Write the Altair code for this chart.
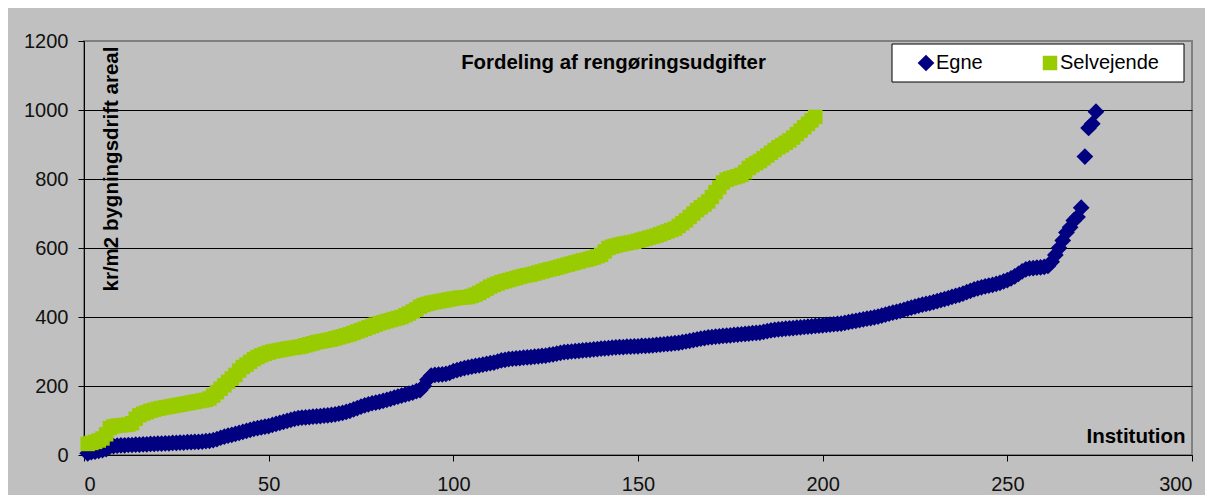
import altair as alt
import pandas as pd

# ---- data ----
egne = [
    5, 8, 10, 12, 14, 17, 24, 26, 27, 28,
    28, 29, 29, 30, 30, 31, 31, 32, 32, 33,
    33, 34, 34, 35, 35, 36, 36, 37, 37, 38,
    38, 39, 40, 41, 43, 46, 50, 53, 56, 58,
    61, 64, 67, 70, 73, 76, 78, 80, 82, 84,
    87, 90, 93, 96, 99, 102, 105, 107, 108, 109,
    110, 111, 112, 113, 114, 115, 116, 118, 120, 122,
    125, 128, 132, 136, 140, 144, 147, 150, 152, 154,
    157, 160, 163, 166, 169, 172, 175, 178, 181, 185,
    188, 200, 218, 230, 232, 233, 234, 235, 238, 243,
    246, 249, 252, 254, 256, 258, 260, 262, 264, 266,
    268, 271, 274, 276, 278, 279, 280, 281, 282, 283,
    284, 285, 286, 287, 288, 290, 292, 294, 296, 298,
    299, 300, 301, 302, 303, 304, 305, 306, 307, 308,
    309, 310, 311, 312, 313, 313, 314, 314, 315, 315,
    316, 316, 317, 318, 319, 320, 321, 322, 323, 324,
    325, 327, 329, 331, 333, 335, 337, 339, 341, 342,
    343, 344, 345, 346, 347, 348, 349, 350, 351, 352,
    353, 354, 355, 357, 359, 361, 363, 364, 365, 366,
    367, 368, 369, 370, 371, 372, 373, 374, 375, 376,
    377, 378, 379, 380, 381, 383, 385, 387, 389, 391,
    393, 395, 397, 399, 401, 404, 407, 410, 413, 415,
    418, 421, 424, 427, 430, 433, 436, 438, 440, 443,
    446, 449, 452, 455, 458, 461, 464, 468, 472, 476,
    480, 483, 486, 489, 491, 493, 496, 499, 503, 507,
    512, 518, 525, 532, 538, 541, 542, 543, 544, 545,
    548, 560, 580, 600, 622, 645, 660, 680, 690, 717,
    865, 948, 960, 995,
]

selvejende = [
    32, 35, 38, 42, 48, 60, 78, 83, 85, 86,
    87, 88, 92, 105, 115, 120, 124, 128, 131, 134,
    136, 138, 140, 142, 144, 146, 148, 150, 152, 154,
    156, 158, 160, 164, 172, 182, 192, 202, 212, 222,
    232, 245, 255, 262, 270, 278, 284, 289, 293, 297,
    300, 302, 304, 306, 308, 310, 311, 313, 315, 318,
    321, 324, 327, 329, 331, 333, 335, 338, 341, 344,
    347, 350, 354, 358, 362, 366, 370, 374, 378, 382,
    385, 388, 391, 394, 397, 400, 405, 410, 416, 422,
    430, 435, 438, 441, 443, 445, 447, 449, 451, 453,
    455, 456, 457, 458, 461, 465, 470, 476, 482, 488,
    493, 497, 501, 504, 507, 510, 513, 516, 519, 521,
    523, 526, 529, 532, 535, 538, 540, 543, 546, 549,
    552, 555, 558, 561, 564, 566, 569, 572, 576, 580,
    590, 600, 604, 607, 610, 612, 614, 616, 618, 621,
    624, 627, 630, 633, 636, 640, 644, 648, 652, 656,
    664, 672, 680, 690, 700, 710, 718, 726, 735, 748,
    762, 776, 790, 798, 802, 805, 808, 812, 820, 832,
    840, 846, 852, 860, 868, 876, 884, 892, 898, 905,
    912, 920, 930, 940, 950, 960, 970, 980,
]

series_names = ["Egne", "Selvejende"]
series_colors = ["#000080", "#99CC00"]
series_shapes = ["diamond", "square"]
series_sizes = [280, 210]
x_ticks = [0, 50, 100, 150, 200, 250, 300]
y_ticks = [0, 200, 400, 600, 800, 1000, 1200]
chart_title = "Fordeling af rengøringsudgifter"
y_title = "kr/m2 bygningsdrift areal"
x_title = "Institution"

df = pd.DataFrame({
    "Institution": list(range(1, len(egne) + 1)) + list(range(1, len(selvejende) + 1)),
    "value": egne + selvejende,
    "series": [series_names[0]] * len(egne) + [series_names[1]] * len(selvejende),
})

FONT = "Liberation Sans"
W, H = 1108, 414

legend = alt.Legend(
    title=None, orient="none", legendX=832, legendY=12, direction="horizontal",
    symbolSize=210, symbolOpacity=1, symbolStrokeWidth=0, labelFont=FONT,
    labelFontSize=20, labelColor="#000", labelOffset=0, columnPadding=57, padding=0,
)

points = alt.Chart(df).mark_point(filled=True, opacity=1, strokeWidth=0).encode(
    x=alt.X("Institution:Q",
            scale=alt.Scale(domain=[0, 300], nice=False),
            axis=alt.Axis(values=x_ticks, grid=False, tickSize=6, tickColor="#000",
                          domainColor="#000", labelFont=FONT, labelFontSize=20,
                          labelColor="#111", labelPadding=13, format="d",
                          title=x_title, titleFont=FONT, titleFontSize=20.5,
                          titleFontWeight="bold", titleColor="#000",
                          titleX=1101, titleY=-13, titleAlign="right",
                          titleBaseline="alphabetic")),
    y=alt.Y("value:Q",
            scale=alt.Scale(domain=[0, 1200], nice=False),
            axis=alt.Axis(values=y_ticks, grid=True, tickSize=6, tickColor="#000",
                          domainColor="#000", labelFont=FONT, labelFontSize=20,
                          labelColor="#111", labelPadding=10, format="d",
                          gridColor={"condition": {"test": "datum.value === 1200", "value": "#808080"},
                                     "value": "#000"},
                          gridWidth=1, gridOpacity=1,
                          title=y_title, titleFont=FONT, titleFontSize=20.5,
                          titleFontWeight="bold", titleColor="#000",
                          titleX=33, titleY=127.5, titleAlign="center",
                          titleBaseline="alphabetic", titleAngle=270)),
    color=alt.Color("series:N", scale=alt.Scale(domain=series_names, range=series_colors),
                    legend=legend),
    shape=alt.Shape("series:N", scale=alt.Scale(domain=series_names, range=series_shapes),
                    legend=legend),
    size=alt.Size("series:N", scale=alt.Scale(domain=series_names, range=series_sizes),
                  legend=None),
)

legend_box = alt.Chart(pd.DataFrame({"k": [0]})).mark_rect(
    fill="white", stroke="#000", strokeWidth=1
).encode(x=alt.value(808), x2=alt.value(1100), y=alt.value(3), y2=alt.value(41))

title_text = alt.Chart(pd.DataFrame({"t": [chart_title]})).mark_text(
    font=FONT, fontSize=20.4, fontWeight="bold", align="center", baseline="alphabetic", color="#000"
).encode(x=alt.value(529.5), y=alt.value(28), text="t:N")

chart = alt.layer(points, legend_box, title_text).properties(
    width=W, height=H, background="#C0C0C0",
    autosize=alt.AutoSizeParams(type="none"),
    padding={"left": 76, "top": 33, "right": 13, "bottom": 40},
).configure_view(stroke="#808080", strokeWidth=2)

chart.save("out.html", embed_options={"renderer": "svg", "actions": False})
